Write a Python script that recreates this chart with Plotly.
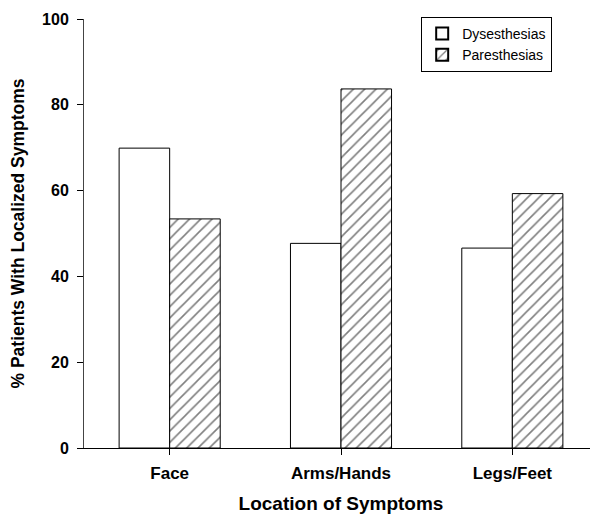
import plotly.graph_objects as go

categories = ["Face", "Arms/Hands", "Legs/Feet"]
dysesthesias = [69.9, 47.7, 46.6]
paresthesias = [53.4, 83.7, 59.3]
y_ticks = [0, 20, 40, 60, 80, 100]

fig = go.Figure()
fig.add_trace(go.Bar(
    x=categories, y=dysesthesias, name="Dysesthesias",
    marker=dict(color="white", line=dict(color="black", width=1)),
))
fig.add_trace(go.Bar(
    x=categories, y=paresthesias, name="Paresthesias",
    marker=dict(color="white", line=dict(color="black", width=1),
                pattern=dict(shape="/", fgcolor="black", bgcolor="white",
                             size=8, solidity=0.2)),
))

font_family = "Liberation Sans, Arial, sans-serif"
# page body has an 8px default margin, so the figure is sized to fill the rest
fig.update_layout(
    width=590, height=506,
    margin=dict(l=76, r=0, t=11, b=66, autoexpand=False),
    paper_bgcolor="white", plot_bgcolor="white",
    barmode="group", bargap=0.41, bargroupgap=0,
    font=dict(family=font_family, color="black"),
    showlegend=True,
    legend=dict(
        x=0.656, y=1.005, xanchor="left", yanchor="top",
        bordercolor="black", borderwidth=1, bgcolor="white",
        font=dict(size=14, family=font_family),
        itemsizing="constant", tracegroupgap=0, entrywidth=110,
    ),
)
fig.update_xaxes(
    range=[-0.5, 2.5], showline=True, linecolor="black", linewidth=1,
    ticks="outside", ticklen=6, tickcolor="black", automargin=False,
    ticklabelstandoff=4,
    tickfont=dict(size=17, family=font_family, weight="bold"),
    title=dict(text="Location of Symptoms", font=dict(size=19, weight="bold")),
    showgrid=False, zeroline=False,
)
fig.update_yaxes(
    range=[0, 100], tickvals=y_ticks, showline=True, linecolor="#444", linewidth=1,
    ticks="outside", ticklen=6, tickcolor="black", automargin=False,
    ticklabelstandoff=5,
    tickfont=dict(size=16, family=font_family, weight="bold"),
    title=dict(text="% Patients With Localized Symptoms", font=dict(size=17.5, weight="bold")),
    showgrid=False, zeroline=False,
)

fig.write_html("out.html")
